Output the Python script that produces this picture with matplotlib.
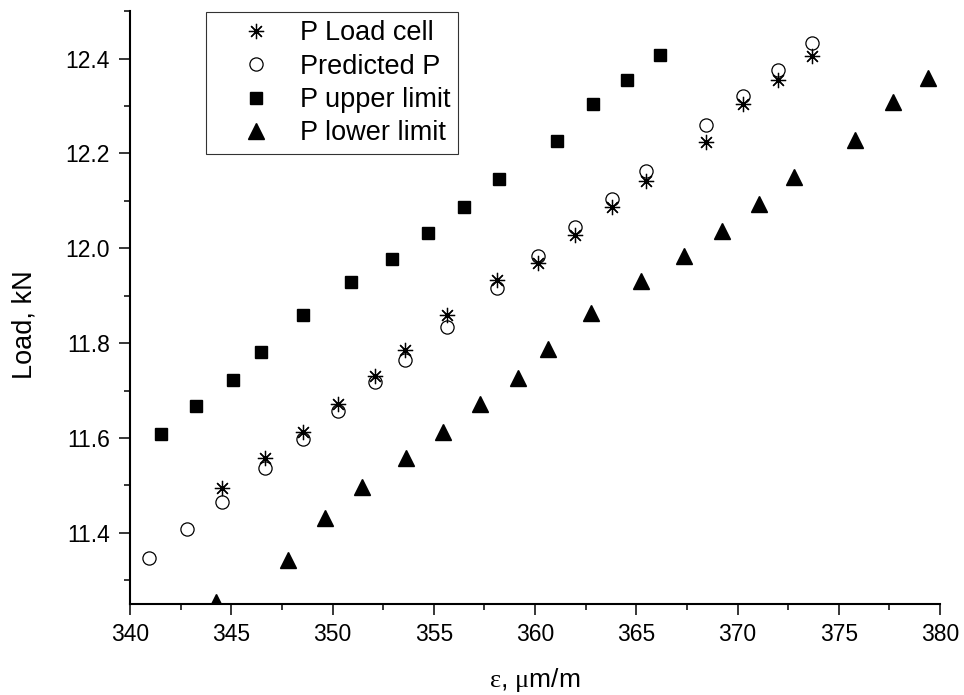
import numpy as np
import matplotlib.pyplot as plt
from matplotlib.ticker import MultipleLocator

plt.rcParams['font.family'] = ['Liberation Sans', 'DejaVu Sans']
plt.rcParams['mathtext.fontset'] = 'custom'
plt.rcParams['mathtext.rm'] = 'Liberation Serif'
plt.rcParams['mathtext.it'] = 'Liberation Serif'

# P Load cell
load_x = [344.56, 346.68, 348.53, 350.29, 352.12, 353.60, 355.67, 358.10,
          360.17, 361.98, 363.78, 365.50, 368.44, 370.28, 371.98, 373.66]
load_y = [11.495, 11.557, 11.612, 11.671, 11.730, 11.786, 11.860, 11.934,
          11.969, 12.028, 12.088, 12.142, 12.225, 12.304, 12.355, 12.405]

# Predicted P
pred_x = [340.95, 342.80, 344.56, 346.68, 348.53, 350.29, 352.12, 353.60, 355.67,
          358.10, 360.17, 361.98, 363.78, 365.50, 368.44, 370.28, 371.98, 373.66]
pred_y = [11.346, 11.407, 11.466, 11.536, 11.598, 11.656, 11.717, 11.765, 11.835,
          11.916, 11.984, 12.044, 12.104, 12.162, 12.260, 12.320, 12.376, 12.433]

# P upper limit
upper_x = [341.55, 343.26, 345.07, 346.48, 348.53, 350.93, 352.95, 354.73,
           356.51, 358.22, 361.07, 362.86, 364.53, 366.17]
upper_y = [11.609, 11.668, 11.723, 11.782, 11.859, 11.928, 11.977, 12.032,
           12.088, 12.146, 12.226, 12.304, 12.355, 12.407]

# P lower limit
lower_x = [344.23, 347.79, 349.65, 351.47, 353.61, 355.47, 357.28, 359.14, 360.66,
           362.75, 365.25, 367.36, 369.22, 371.06, 372.81, 375.80, 377.66, 379.43]
lower_y = [11.255, 11.343, 11.432, 11.497, 11.557, 11.613, 11.672, 11.727, 11.788,
           11.864, 11.931, 11.983, 12.036, 12.094, 12.150, 12.229, 12.308, 12.360]

fig = plt.figure(figsize=(9.64, 6.95), dpi=100)
ax = fig.add_axes([0.1349, 0.131, 0.8402, 0.853])

ax.plot(load_x, load_y, linestyle='none', marker=(8, 2, 0), markersize=11,
        markeredgecolor='black', markeredgewidth=0.9, label='P Load cell')
ax.plot(pred_x, pred_y, linestyle='none', marker='o', markersize=9.5,
        markerfacecolor='none', markeredgecolor='black', markeredgewidth=0.9,
        label='Predicted P')
ax.plot(upper_x, upper_y, linestyle='none', marker='s', markersize=8.5,
        color='black', label='P upper limit')
ax.plot(lower_x, lower_y, linestyle='none', marker='^', markersize=11.5,
        color='black', label='P lower limit')

ax.set_xlim(340, 380)
ax.set_ylim(11.25, 12.5)
ax.xaxis.set_major_locator(MultipleLocator(5))
ax.xaxis.set_minor_locator(MultipleLocator(2.5))
ax.yaxis.set_major_locator(MultipleLocator(0.2))
ax.yaxis.set_minor_locator(MultipleLocator(0.1))
ax.yaxis.set_major_formatter(plt.FormatStrFormatter('%.1f'))

for side in ['top', 'right']:
    ax.spines[side].set_visible(False)
for side in ['left', 'bottom']:
    ax.spines[side].set_linewidth(1.5)

ax.tick_params(which='major', direction='out', length=8, width=1.1,
               labelsize=16.5)
ax.tick_params(which='minor', direction='out', length=4.5, width=1.1)
ax.tick_params(axis='x', which='major', pad=6)
ax.tick_params(axis='y', which='major', pad=6.5)

ax.set_xlabel(r'$\varepsilon$, $\mu$m/m', fontsize=19, labelpad=14)
ax.set_ylabel('Load, kN', fontsize=19.5)
ax.yaxis.set_label_coords(-0.114, 0.472)

leg = ax.legend(loc='upper left', bbox_to_anchor=(0.094, 0.998), fontsize=19.5,
                frameon=True, fancybox=False, edgecolor='black',
                handletextpad=0.05, borderpad=0.3, labelspacing=0.27,
                handlelength=3.1, borderaxespad=0)
leg.get_frame().set_linewidth(0.8)

plt.savefig('out.png', dpi=100)
